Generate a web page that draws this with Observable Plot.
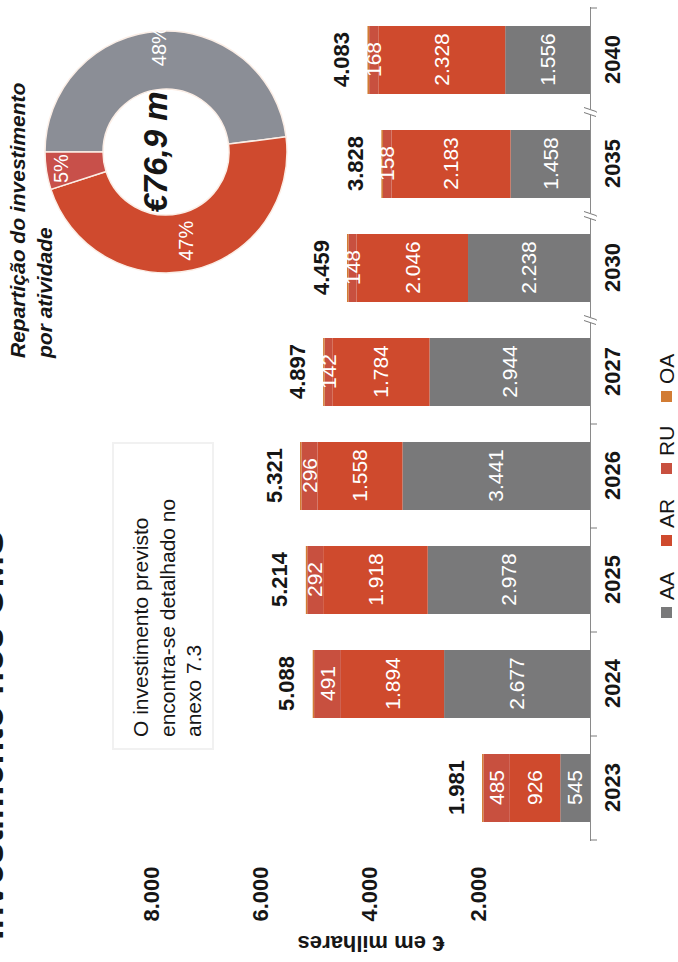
<!DOCTYPE html>
<html><head><meta charset="utf-8">
<script src="https://cdn.jsdelivr.net/npm/d3@7"></script>
<script src="https://cdn.jsdelivr.net/npm/@observablehq/plot@0.6"></script>
<style>
html,body{margin:0;padding:0;background:#fff;overflow:hidden;width:678px;height:962px;}
#rot{position:absolute;left:0;top:0;width:962px;height:678px;transform-origin:0 0;transform:translate(0px,962px) rotate(-90deg);}
#rot svg{font-family:"Liberation Sans",Arial,sans-serif;overflow:visible;}
</style></head><body><div id="rot"></div>
<script>
// ---- data ----
const years = ["2023","2024","2025","2026","2027","2030","2035","2040"];
const categories = ["AA","AR","RU","OA"];
const AA = [545,2677,2978,3441,2944,2238,1458,1556];
const AR = [926,1894,1918,1558,1784,2046,2183,2328];
const RU = [485,491,292,296,142,148,158,168];
const OA = [25,26,26,26,27,27,29,31];
const totals = [1981,5088,5214,5321,4897,4459,3828,4083];
const yTicks = [2000,4000,6000,8000];
const breakBefore = ["2030","2035","2040"];
const donutCats = ["AA","AR","RU"];
const donutShares = [48,47,5];
const donutCenterLabel = "€76,9 m";
const titleText = "Investimento nos OMS";
const donutTitle = ["Repartição do investimento","por atividade"];
const noteLines = ["O investimento previsto","encontra-se detalhado no","anexo 7.3"];
const yLabel = "€ em milhares";

// ---- styles ----
const barColors = ["#79797a","#cf4a2d","#c8503f","#d27c34"];
const donutColors = {AA:"#8b8e96", AR:"#cf4a2e", RU:"#c8504a"};
const ink = "#161616";

const loc = d3.formatLocale({decimal:",", thousands:".", grouping:[3], currency:["€",""]});
const fmt = loc.format(",");

const series = {AA, AR, RU, OA};
const rows = [];
years.forEach((y,i) => categories.forEach(c => rows.push({year:y, cat:c, value:series[c][i]})));
const totalRows = years.map((y,i) => ({year:y, total:totals[i]}));
const donutData = donutCats.map((c,i) => ({cat:c, share:donutShares[i]}));

function svgText(g, str, x, y, opts={}) {
  const t = g.append("text").attr("x",x).attr("y",y).text(str)
    .attr("fill", opts.fill || ink)
    .attr("font-size", opts.size || 21)
    .attr("font-weight", opts.weight || "normal")
    .attr("font-style", opts.style || "normal")
    .attr("text-anchor", opts.anchor || "start");
  if (opts.transform) t.attr("transform", opts.transform);
  return t;
}

// axis decorations: boundary ticks and break marks
function axisDecor(index, scales) {
  const x = scales.x, y = scales.y;
  const step = x.step ? x.step() : 104;
  const bw = x.bandwidth ? x.bandwidth() : 68;
  const gap = (step - bw) / 2;
  const base = y(0);
  const g = d3.create("svg:g").attr("stroke","#7a7a7a").attr("stroke-width",1);
  const bounds = years.map(yr => x(yr) - gap);
  bounds.push(x(years[years.length-1]) + bw + gap);
  for (const b of bounds) g.append("line").attr("x1",b).attr("x2",b).attr("y1",base).attr("y2",base+7);
  for (const yr of breakBefore) {
    const b = x(yr) - gap;
    g.append("rect").attr("x",b-3).attr("y",base-6).attr("width",6).attr("height",12).attr("fill","#fff").attr("stroke","none");
    for (const o of [-2.5, 2.5]) g.append("line").attr("x1",b+o-2).attr("x2",b+o+2).attr("y1",base+6).attr("y2",base-6);
  }
  return g.node();
}

function donut() {
  const cx = 810, cy = 166, r0 = 63, r1 = 121;
  const g = d3.create("svg:g").attr("transform",`translate(${cx},${cy})`);
  const arcs = d3.pie().sort(null).value(d => d.share)(donutData);
  const arc = d3.arc().innerRadius(r0).outerRadius(r1);
  g.selectAll("path").data(arcs).join("path")
    .attr("d", arc).attr("fill", d => donutColors[d.data.cat])
    .attr("stroke","#fbeee6").attr("stroke-width",1.5);
  arcs.forEach(d => {
    const lr = d.data.cat === "AR" ? 91 : 106;
    const [lx, ly] = d3.arc().innerRadius(lr).outerRadius(lr).centroid(d);
    svgText(g, d.data.share + "%", lx, ly + 7, {fill:"#fff", size:20, anchor:"middle"});
  });
  svgText(g, donutCenterLabel, 0, 1, {size:33, weight:"bold", style:"italic", anchor:"middle"});
  return g.node();
}

function staticTexts() {
  const g = d3.create("svg:g");
  // cropped page title
  svgText(g, titleText, 22, 3, {size:38, weight:"bold"});
  // donut title
  donutTitle.forEach((s,i) => svgText(g, s, 604, 25 + i*27, {size:21, weight:"bold", style:"italic"}));
  // note box
  g.append("rect").attr("x",213).attr("y",113).attr("width",306).attr("height",100)
    .attr("fill","none").attr("stroke","#f1f1f1").attr("stroke-width",2);
  noteLines.forEach((s,i) => svgText(g, s, 225, 148 + i*26.5, {size:21}));
  // y axis label
  svgText(g, yLabel, 0, 0, {size:22, weight:"bold", anchor:"middle", transform:"translate(26,371) rotate(-90)"});
  // legend
  categories.forEach((c,i) => {
    const x0 = 344 + i*72;
    g.append("rect").attr("x",x0).attr("y",661).attr("width",11).attr("height",11).attr("fill",barColors[i]);
    svgText(g, c, x0 + 18, 674, {size:21});
  });
  return g.node();
}

const chart = Plot.plot({
  width: 962, height: 678,
  marginLeft: 121, marginRight: 7, marginTop: 45, marginBottom: 88,
  style: {fontFamily: '"Liberation Sans", Arial, sans-serif', color: ink, background: "transparent"},
  x: {domain: years, paddingInner: 0.35, paddingOuter: 0.175, axis: null},
  y: {domain: [0, 10000], axis: null},
  color: {domain: categories, range: barColors},
  marks: [
    Plot.barY(rows, Plot.stackY({x:"year", y:"value", fill:"cat", order: categories})),
    Plot.text(rows, Plot.stackY({x:"year", y:"value", z:"cat", order: categories,
      text: d => d.cat === "OA" ? null : fmt(d.value), fill:"#fff", fontSize:21})),
    Plot.text(totalRows, {x:"year", y:"total", text: d => fmt(d.total), dy:-26, fontSize:22, fontWeight:"bold", fill: ink}),
    Plot.ruleY([0], {stroke:"#8a8a8a", strokeWidth:1}),
    axisDecor,
    Plot.axisX({tickSize:0, tickPadding:14, fontSize:22, fontWeight:"bold", label:null, fill: ink}),
    Plot.axisY({ticks: yTicks, tickSize:0, tickPadding:26, tickFormat: fmt, fontSize:22, fontWeight:"bold", label:null, dy:-3, fill: ink}),
    donut,
    staticTexts
  ]
});
document.getElementById("rot").appendChild(chart);
</script>
</body></html>
